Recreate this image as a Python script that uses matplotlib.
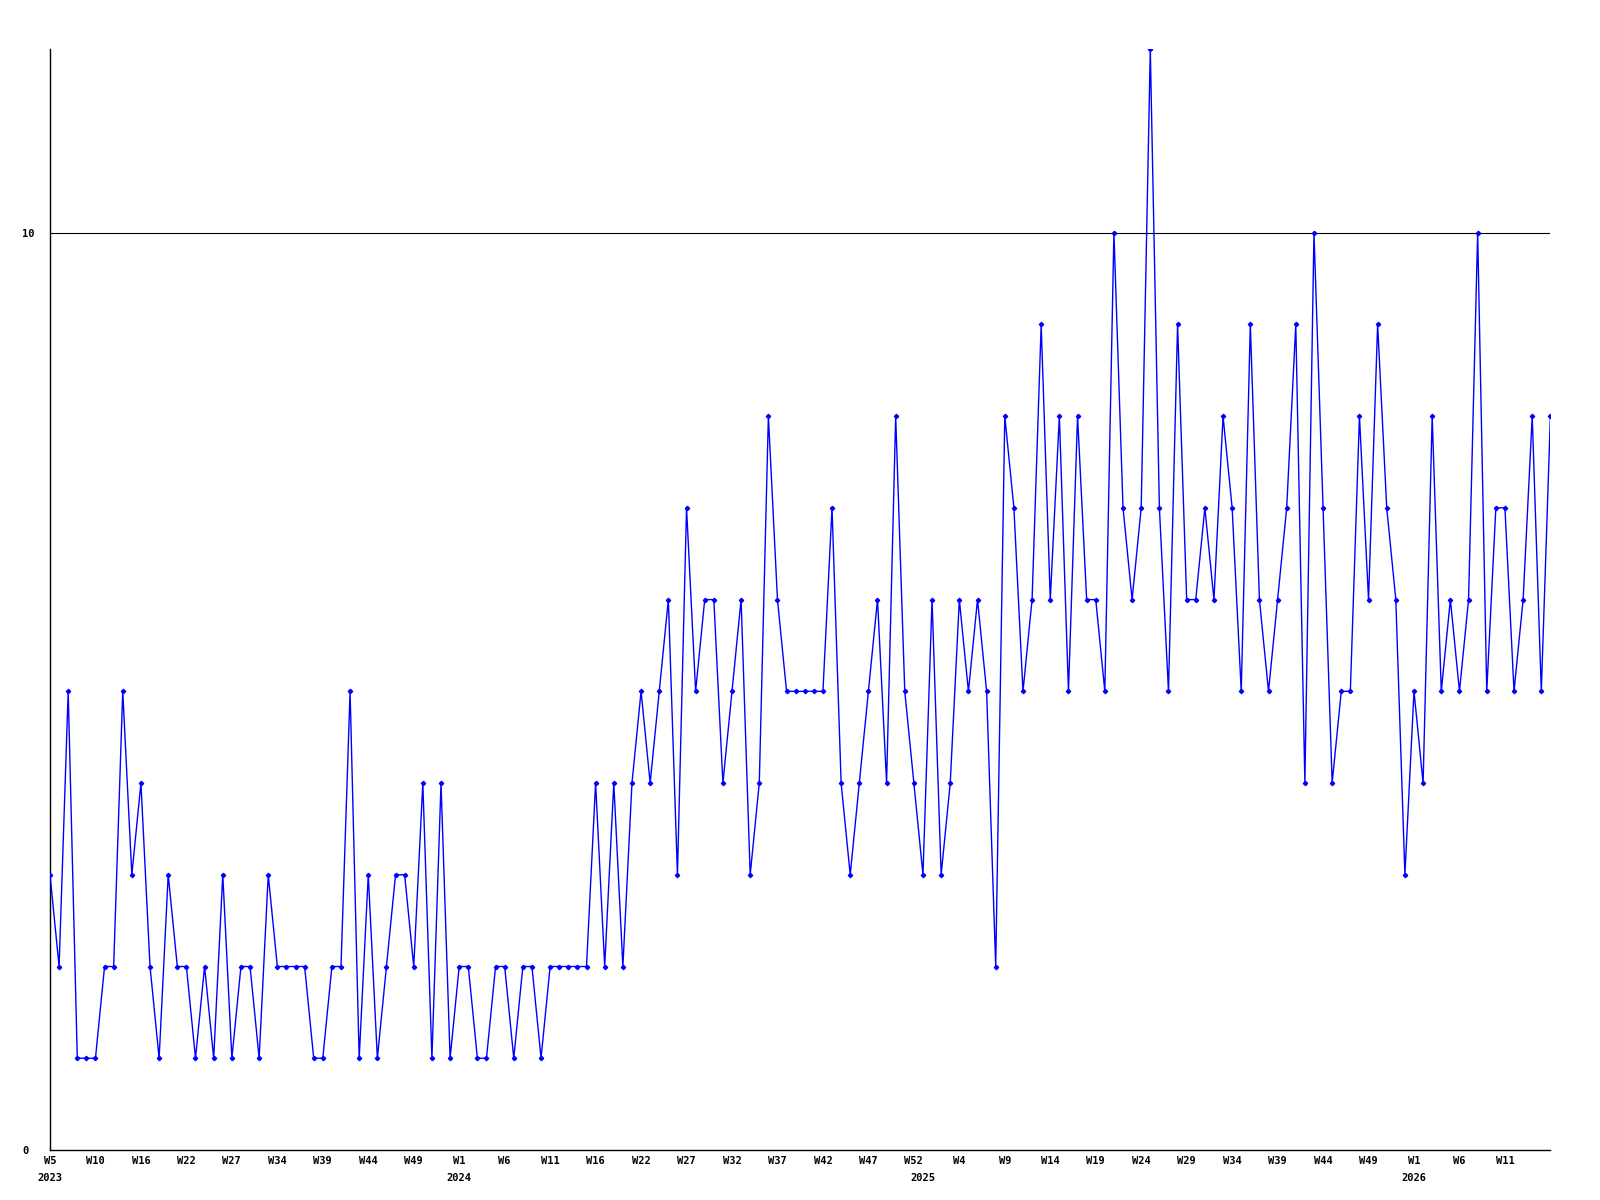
#!/usr/bin/env python3

import matplotlib
matplotlib.use("Agg")
import matplotlib.pyplot as plt
import matplotlib.transforms as mtransforms

# weekly values, one point per week (2023 W5 .. 2026)
values = [
    3, 2, 5, 1, 1, 1, 2, 2, 5, 3, 4, 2, 1, 3, 2, 2, 1, 2, 1, 3, 1, 2,
    2, 1, 3, 2, 2, 2, 2, 1, 1, 2, 2, 5, 1, 3, 1, 2, 3, 3, 2, 4, 1,
    4, 1, 2, 2, 1, 1, 2, 2, 1, 2, 2, 1, 2, 2, 2, 2, 2, 4, 2, 4,
    2, 4, 5, 4, 5, 6, 3, 7, 5, 6, 6, 4, 5, 6, 3, 4, 8, 6, 5, 5, 5,
    5, 5, 7, 4, 3, 4, 5, 6, 4, 8, 5, 4, 3, 6, 3, 4, 6, 5, 6, 5, 2,
    8, 7, 5, 6, 9, 6, 8, 5, 8, 6, 6, 5, 10, 7, 6, 7, 12, 7, 5, 9,
    6, 6, 7, 6, 8, 7, 5, 9, 6, 5, 6, 7, 9, 4, 10, 7, 4, 5, 5, 8, 6, 9,
    7, 6, 3, 5, 4, 8, 5, 6, 5, 6, 10, 5, 7, 7, 5, 6, 8, 5, 8,
]

# a label every 5th point
week_labels = [
    "W5", "W10", "W16", "W22", "W27", "W34", "W39", "W44", "W49",
    "W1", "W6", "W11", "W16", "W22", "W27", "W32", "W37", "W42", "W47", "W52",
    "W4", "W9", "W14", "W19", "W24", "W29", "W34", "W39", "W44", "W49",
    "W1", "W6", "W11",
]
year_labels = ["2023", "2024", "2025", "2026"]
year_idx = [0, 45, 96, 150]

font = dict(family="DejaVu Sans Mono", fontweight="bold", fontsize=7.5)

fig, ax = plt.subplots(figsize=(16, 12), dpi=100)
fig.subplots_adjust(left=0.03125, right=0.969, bottom=0.0417, top=0.959)

x = list(range(len(values)))
ax.plot(x, values, color="#0000ff", linewidth=1.0, marker="D",
        markersize=2.2, markerfacecolor="#0000ff", markeredgecolor="#0000ff",
        zorder=3)

ax.axhline(10, color="black", linewidth=0.8, zorder=2)

ax.set_xlim(0, len(values) - 1)
ax.set_ylim(0, 12)

for side in ("top", "right"):
    ax.spines[side].set_visible(False)
for side in ("left", "bottom"):
    ax.spines[side].set_color("black")
    ax.spines[side].set_linewidth(1.0)

ax.set_xticks(range(0, 5 * len(week_labels), 5))
ax.set_xticklabels(week_labels, **font)
ax.tick_params(axis="x", length=0, pad=4)

ax.set_yticks([0, 10])
ax.set_yticklabels(["0", "10"], **font)
ax.tick_params(axis="y", length=0, pad=20)
for lbl in ax.get_yticklabels():
    lbl.set_horizontalalignment("left")

trans = mtransforms.blended_transform_factory(ax.transData, ax.transAxes)
for idx, yr in zip(year_idx, year_labels):
    ax.text(idx, -0.021, yr, transform=trans, ha="center", va="top", **font)

fig.savefig("out.png", dpi=100, facecolor="white")
